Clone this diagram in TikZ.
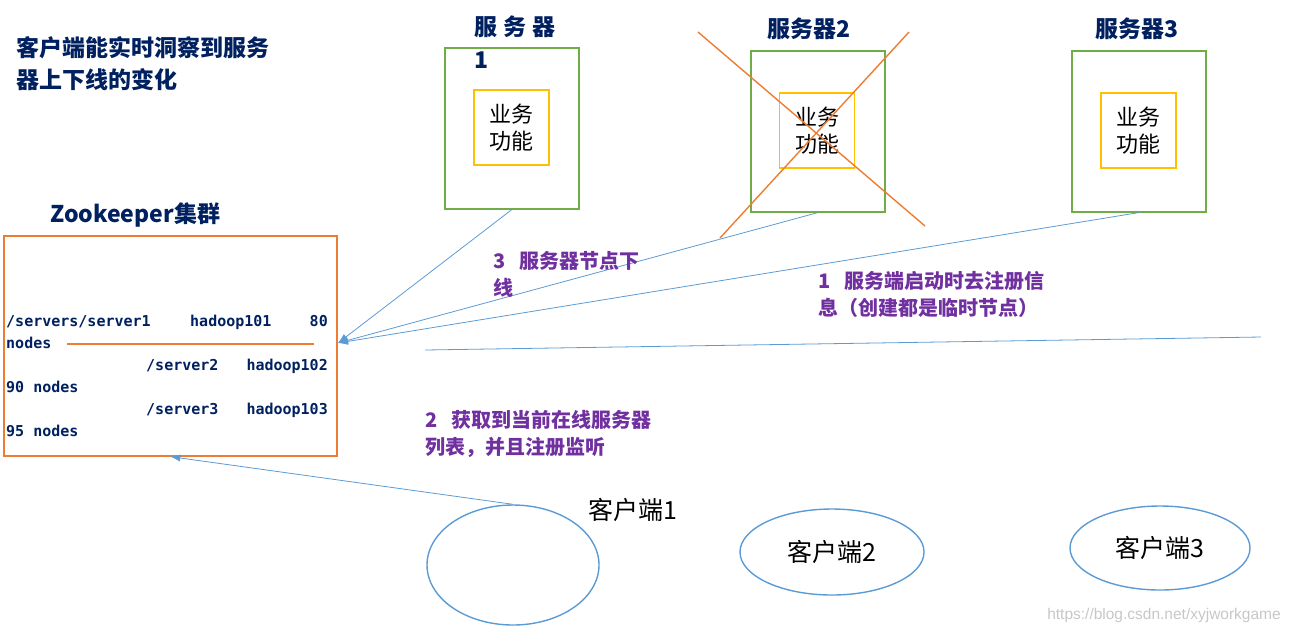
\documentclass[tikz,border=0pt]{standalone}
\usepackage{fontspec}
\setmainfont{Liberation Sans}
\newfontfamily\cjk{Noto Sans CJK SC}
\newfontfamily\zkmono{DejaVu Sans Mono}
\usetikzlibrary{shapes.geometric,arrows.meta}

\definecolor{navy}{HTML}{002060}
\definecolor{notepurple}{HTML}{7030A0}
\definecolor{boxgreen}{HTML}{70AD47}
\definecolor{funcyellow}{HTML}{FFC000}
\definecolor{crossorange}{HTML}{ED7D31}
\definecolor{linkblue}{HTML}{5B9BD5}

\tikzset{
  srvbox/.style={draw=boxgreen, line width=1.6pt, minimum width=134, minimum height=161, anchor=north west, inner sep=0},
  funcbox/.style={draw=funcyellow, line width=1.6pt, minimum width=75, minimum height=75, align=center, inner sep=0,
    font=\cjk\fontsize{22}{27}\selectfont},
  hdr/.style={text=navy, inner sep=0, font=\cjk\bfseries\fontsize{23}{33}\selectfont},
  note/.style={text=notepurple, anchor=north west, align=left, inner sep=0, font=\cjk\bfseries\fontsize{20}{27}\selectfont},
  zkline/.style={text=navy, anchor=base west, inner sep=0, font=\zkmono\bfseries\fontsize{15}{22}\selectfont},
  client/.style={draw=linkblue, line width=1.4pt, ellipse, inner sep=0, font=\cjk\fontsize{25}{27}\selectfont},
  clabel/.style={inner sep=0, font=\cjk\fontsize{25}{27}\selectfont},
  link/.style={draw=linkblue, line width=0.8pt, -{Latex[length=10pt,width=7pt]}},
  plainlink/.style={draw=linkblue, line width=0.8pt}
}

\begin{document}
\begin{tikzpicture}[x=1pt, y=-1pt]
    \useasboundingbox (0,0) rectangle (1292,633);

    % Title
    \node[hdr, anchor=north west, align=left, font=\cjk\bfseries\fontsize{23}{32}\selectfont] (title) at (16,36)
        {客户端能实时洞察到服务\\器上下线的变化};

    % Zookeeper cluster
    \node[hdr, anchor=north west] (zktitle) at (50,202) {Zookeeper集群};
    \node[draw=crossorange, line width=1.6pt, minimum width=333, minimum height=220, anchor=north west] (zk) at (3,235) {};
    \coordinate (zkin) at (338,343);

    \node[zkline] (l1a) at (6,326) {/servers/server1};
    \node[zkline] (l1b) at (190,326) {hadoop101};
    \node[zkline, anchor=base east] (l1c) at (328,326) {80};
    \node[zkline] (l2) at (6,348) {nodes};
    \node[zkline] (l3a) at (146,370) {/server2};
    \node[zkline, anchor=base east] (l3b) at (328,370) {hadoop102};
    \node[zkline] (l4) at (6,392) {90 nodes};
    \node[zkline] (l5a) at (146,414) {/server3};
    \node[zkline, anchor=base east] (l5b) at (328,414) {hadoop103};
    \node[zkline] (l6) at (6,436) {95 nodes};
    \coordinate (cutl) at (67,344);
    \coordinate (cutr) at (314,344);
    \draw[crossorange, line width=1.6pt] (cutl) -- (cutr);

    % Servers
    \node[srvbox] (s1) at (444,47) {};
    \node[hdr, anchor=north west, align=left] (s1t) at (474,16) {服\hspace{6pt}务\hspace{6pt}器\\1};
    \node[funcbox] (f1) at (511.5,127.5) {业务\\功能};

    \node[srvbox] (s2) at (750,50) {};
    \node[hdr, anchor=north] (s2t) at (809,18) {服务器2};
    \node[funcbox] (f2) at (817,130.5) {业务\\功能};

    \node[srvbox] (s3) at (1071,50) {};
    \node[hdr, anchor=north] (s3t) at (1137,18) {服务器3};
    \node[funcbox] (f3) at (1138.5,130.5) {业务\\功能};

    % Server 2 offline
    \coordinate (xa) at (698,32);
    \coordinate (xb) at (925,226);
    \coordinate (xc) at (909,32);
    \coordinate (xd) at (720,238);
    \draw[crossorange, line width=1.4pt] (xa) -- (xb);
    \draw[crossorange, line width=1.4pt] (xc) -- (xd);

    % Registration links
    \draw[link] (s1.south) -- (zkin);
    \draw[link] (s2.south) -- (zkin);
    \draw[link] (s3.south) -- (zkin);
    \coordinate (hl) at (425,350);
    \coordinate (hr) at (1261,337);
    \draw[plainlink] (hl) -- (hr);

    % Notes
    \node[note] (n3) at (493,251) {3\hspace{14pt}服务器节点下\\线};
    \node[note] (n1) at (818,271) {1\hspace{14pt}服务端启动时去注册信\\息（创建都是临时节点）};
    \node[note] (n2) at (425,410) {2\hspace{14pt}获取到当前在线服务器\\列表，并且注册监听};

    % Clients
    \node[client, minimum width=172, minimum height=120] (c1) at (513,565) {};
    \node[clabel] (c1t) at (633,510) {客户端1};
    \node[client, minimum width=184, minimum height=86] (c2) at (832,552) {客户端2};
    \node[client, minimum width=180, minimum height=84] (c3) at (1160,548) {客户端3};
    \draw[link] (c1.north) -- (zk.south);

    % Watermark
    \node[text=black!22, inner sep=0, font=\fontsize{15.5}{17}\selectfont] (wm) at (1164,615) {https://blog.csdn.net/xyjworkgame};

\end{tikzpicture}
\end{document}
